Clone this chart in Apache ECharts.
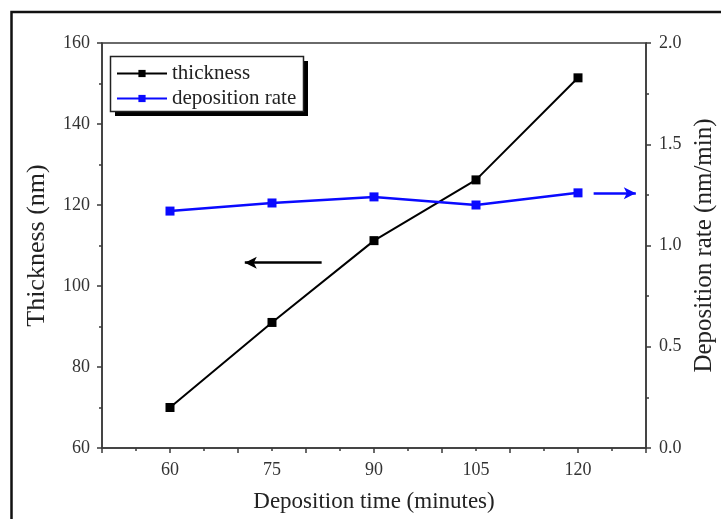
<!DOCTYPE html>
<html>
<head>
<meta charset="utf-8">
<script src="https://cdn.jsdelivr.net/npm/echarts@6/dist/echarts.min.js"></script>
<style>
  html, body { margin: 0; padding: 0; background: #fff; }
  #chart { width: 721px; height: 519px; }
</style>
</head>
<body>
<div id="chart"></div>
<script>
// Deposition time (minutes)
const times = [60, 75, 90, 105, 120];
// Film thickness (nm), left axis
const thickness = [70.0, 91.0, 111.2, 126.2, 151.4];
// Deposition rate (nm/min), right axis
const rate = [1.17, 1.21, 1.24, 1.20, 1.26];
// Labelled ticks on the time axis
const timeTickLabels = [60, 75, 90, 105, 120];
// Arrows pointing each curve to its own axis: [x0, y0, x1, y1] in data units
const thicknessArrow = [82.3, 105.75, 71.0, 105.75];
const rateArrow = [122.3, 1.258, 128.5, 1.258];

const serif = '"Liberation Serif", "DejaVu Serif", serif';
const axisColor = '#3a3a3a';
const textColor = '#333';

const chart = echarts.init(document.getElementById('chart'), null, { renderer: 'canvas' });

function arrowLine(a) {
  return {
    silent: true,
    symbol: ['none', 'arrow'],
    symbolSize: [9, 12],
    label: { show: false },
    lineStyle: { type: 'solid', width: 2.5 },
    data: [[{ coord: [a[0], a[1]] }, { coord: [a[2], a[3]] }]]
  };
}

const tickStyle = { color: axisColor, width: 1.5 };

chart.setOption({
  animation: false,
  backgroundColor: '#fff',
  grid: {
    left: 102, right: 75, top: 43, bottom: 71,
    containLabel: false,
    outerBoundsMode: 'none',
    show: true, borderColor: axisColor, borderWidth: 1.5, backgroundColor: 'transparent'
  },
  legend: {
    orient: 'vertical',
    left: 116, top: 63,
    padding: 0,
    itemGap: 4,
    itemWidth: 50, itemHeight: 9,
    textStyle: { fontFamily: serif, fontSize: 21, color: '#222' },
    data: ['thickness', 'deposition rate']
  },
  xAxis: {
    type: 'value',
    min: 50, max: 130, interval: 10,
    name: 'Deposition time (minutes)',
    nameLocation: 'middle', nameGap: 42,
    nameTextStyle: { fontFamily: serif, fontSize: 23, color: '#222' },
    axisLine: { show: true, lineStyle: tickStyle },
    axisTick: { show: true, length: 5, lineStyle: tickStyle },
    minorTick: { show: true, splitNumber: 2, length: 3, lineStyle: tickStyle },
    splitLine: { show: false },
    axisLabel: {
      customValues: timeTickLabels,
      fontFamily: serif, fontSize: 18, color: textColor, margin: 13
    }
  },
  yAxis: [
    {
      type: 'value',
      position: 'left',
      min: 60, max: 160, interval: 20,
      name: 'Thickness (nm)',
      nameLocation: 'middle', nameGap: 52, nameRotate: 90,
      nameTextStyle: { fontFamily: serif, fontSize: 26, color: '#222' },
      axisLine: { show: true, lineStyle: tickStyle },
      axisTick: { show: true, length: 5, lineStyle: tickStyle },
      minorTick: { show: true, splitNumber: 2, length: 3, lineStyle: tickStyle },
      splitLine: { show: false },
      axisLabel: { fontFamily: serif, fontSize: 18, color: textColor, margin: 12 }
    },
    {
      type: 'value',
      position: 'right',
      min: 0, max: 2, interval: 0.5,
      name: 'Deposition rate (nm/min)',
      nameLocation: 'middle', nameGap: 42, nameRotate: 90,
      nameTextStyle: { fontFamily: serif, fontSize: 25, color: '#222' },
      axisLine: { show: true, lineStyle: tickStyle },
      axisTick: { show: true, length: 5, lineStyle: tickStyle },
      minorTick: { show: true, splitNumber: 2, length: 3, lineStyle: tickStyle },
      splitLine: { show: false },
      axisLabel: {
        fontFamily: serif, fontSize: 18, color: textColor, margin: 13,
        formatter: v => v.toFixed(1)
      }
    }
  ],
  series: [
    {
      name: 'thickness',
      type: 'line',
      yAxisIndex: 0,
      data: times.map((t, i) => [t, thickness[i]]),
      symbol: 'rect', symbolSize: 9,
      color: '#000',
      lineStyle: { color: '#000', width: 2 },
      itemStyle: { color: '#000' },
      markLine: arrowLine(thicknessArrow)
    },
    {
      name: 'deposition rate',
      type: 'line',
      yAxisIndex: 1,
      data: times.map((t, i) => [t, rate[i]]),
      symbol: 'rect', symbolSize: 9,
      color: '#0a0aff',
      lineStyle: { color: '#0a0aff', width: 2.5 },
      itemStyle: { color: '#0a0aff' },
      markLine: arrowLine(rateArrow)
    }
  ],
  graphic: [
    // outer frame (left and top edges)
    {
      type: 'polyline',
      shape: { points: [[11.5, 519], [11.5, 12], [721, 12]] },
      style: { stroke: '#111', lineWidth: 2.5, fill: null },
      silent: true
    },
    // legend box with a solid drop shadow
    {
      type: 'rect', z: 1, silent: true,
      shape: { x: 115, y: 61, width: 193, height: 55 },
      style: { fill: '#000' }
    },
    {
      type: 'rect', z: 2, silent: true,
      shape: { x: 110.5, y: 56.5, width: 193, height: 55 },
      style: { fill: '#fff', stroke: '#222', lineWidth: 1.5 }
    }
  ]
});
</script>
</body>
</html>
